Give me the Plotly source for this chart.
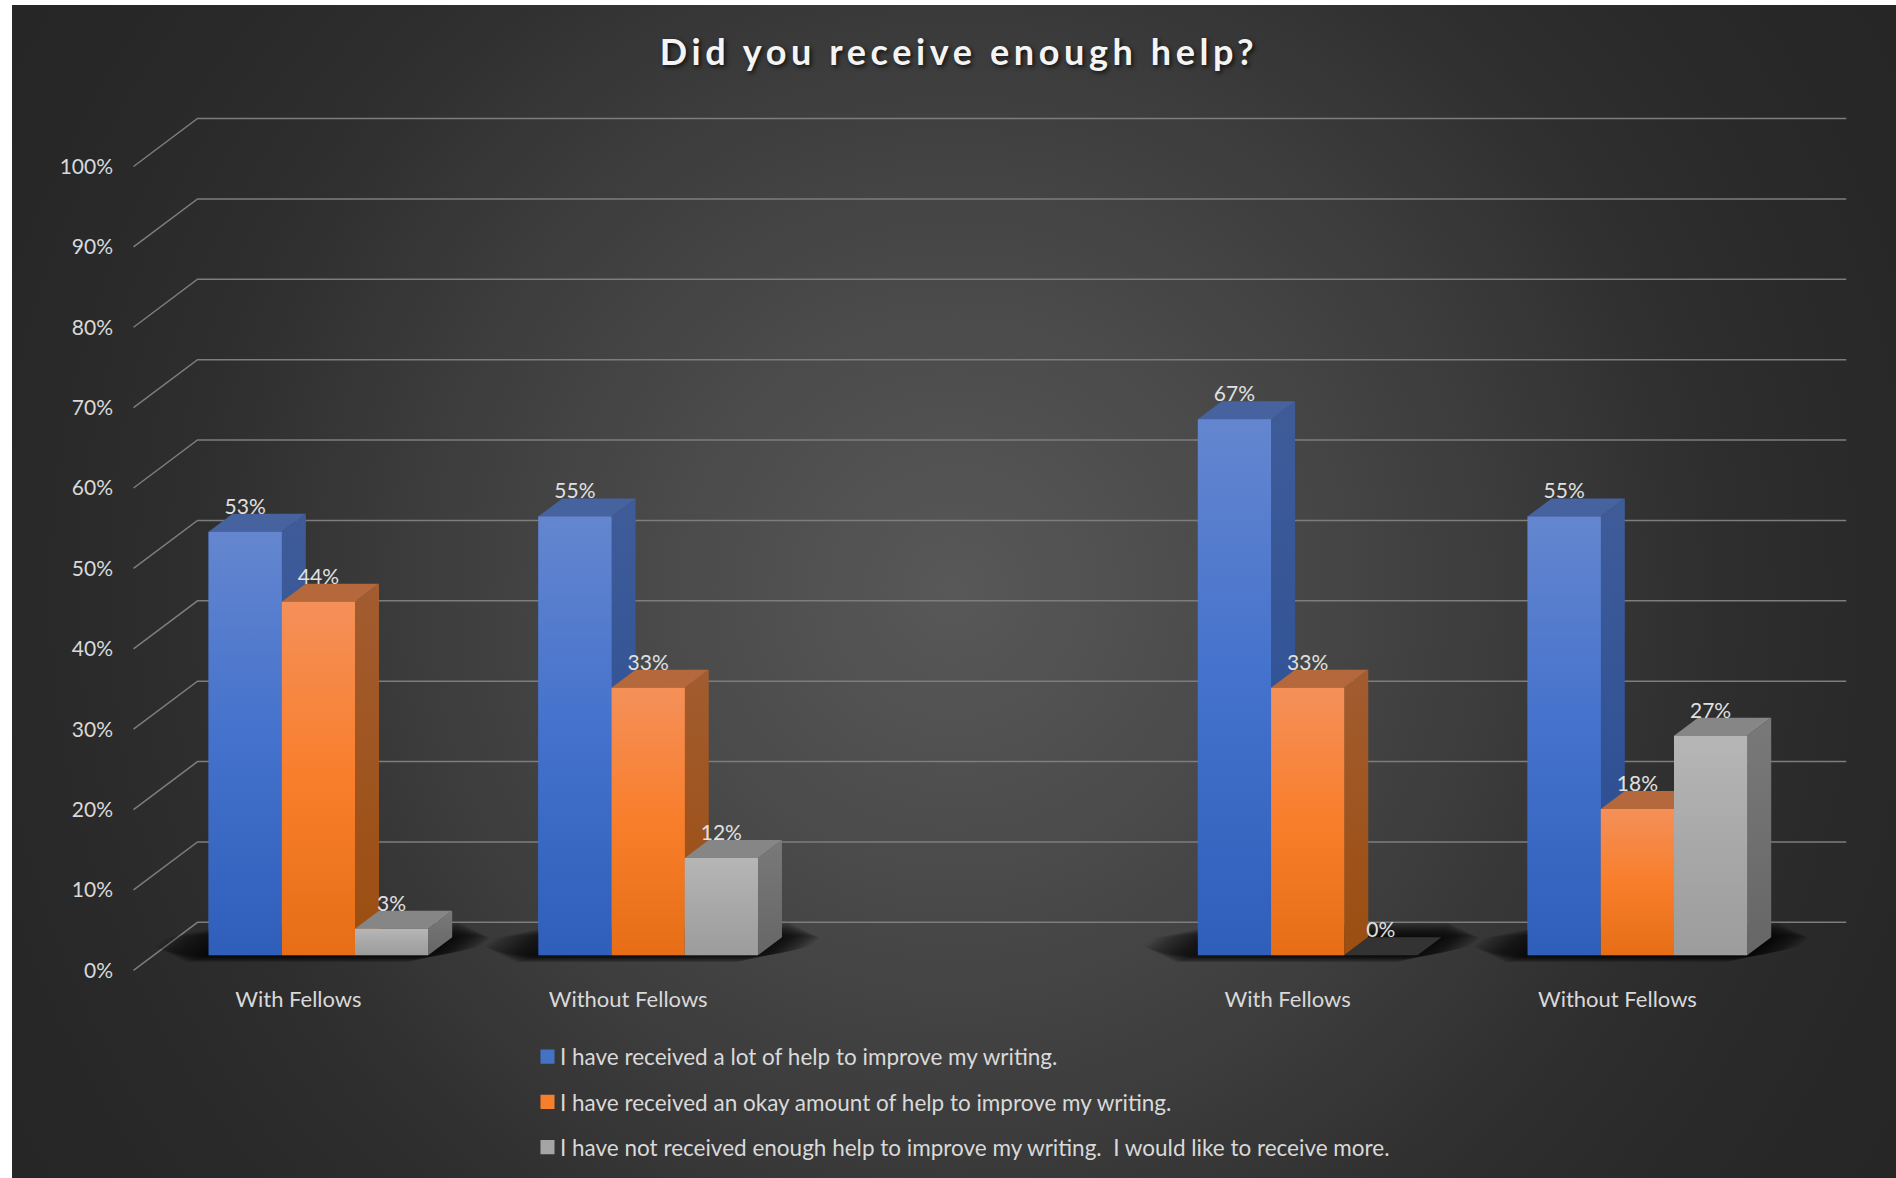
import base64
import numpy as np
import plotly.graph_objects as go

# ---------- data ----------
TITLE = "Did you receive enough help?"
CATEGORIES = ["With Fellows", "Without Fellows", "With Fellows", "Without Fellows"]
CATEGORY_POS = [0, 1, 3, 4]
SERIES_NAMES = [
    "I have received a lot of help to improve my writing.",
    "I have received an okay amount of help to improve my writing.",
    "I have not received enough help to improve my writing.  I would like to receive more.",
]
LOT_OF_HELP = [52.7, 54.6, 66.7, 54.6]
OKAY_HELP = [44.0, 33.3, 33.3, 18.2]
NOT_ENOUGH = [3.3, 12.1, 0.0, 27.3]
Y_TICKS = [0, 10, 20, 30, 40, 50, 60, 70, 80, 90, 100]

# ---------- styles ----------
SERIES = [LOT_OF_HELP, OKAY_HELP, NOT_ENOUGH]
FRONT = [("#2f5fbb", "#4371cc", "#6486cf"), ("#e66e16", "#f97e2b", "#f49059"), ("#9c9c9c", "#a8a8a8", "#b6b6b6")]
SIDE = [("#264b92", "#3f5c99"), ("#9c4e10", "#a25c30"), ("#666666", "#797979")]
TOP = ["#47639f", "#b5683c", "#868686"]
MID = ["#4472c4", "#f57f2b", "#a5a5a5"]
W, H = 1896, 1178
TXT = "#d9d9d9"
FONT = "Lato"
FS = 21

# geometry of the oblique projection (in axis units)
PX_X, PX_Y, X0, Y0 = 329.75, 8.038, 298.4, 970.3
DX, DY = 64 / PX_X, 48 / PX_Y
Z0, Z1 = 0.3125, 0.6875
BW = 73.2 / PX_X
XR = [-X0 / PX_X, (W - X0) / PX_X]
YR = [-(H - Y0) / PX_Y, Y0 / PX_Y]


def pr(x, y, z):
    return x + z * DX, y + z * DY


def poly(pts):
    xs = [p[0] for p in pts] + [pts[0][0]]
    ys = [p[1] for p in pts] + [pts[0][1]]
    return xs, ys


fig = go.Figure()

# solid bars (value traces; carry the legend)
for j, (name, vals) in enumerate(zip(SERIES_NAMES, SERIES)):
    fig.add_trace(go.Bar(
        x=[c + (j - 1) * BW + Z0 * DX for c in CATEGORY_POS], y=vals,
        base=Z0 * DY, width=BW, name=name, legendgroup=f"s{j}",
        marker=dict(color=MID[j], line=dict(width=0)),
        hoverinfo="skip",
    ))

# gridlines: wall + floor edge
gx0, gx1 = -0.5, 4.5
for t in Y_TICKS:
    fig.add_trace(go.Scatter(
        x=[gx0, gx0 + DX, gx1 + DX], y=[t, t + DY, t + DY], mode="lines",
        line=dict(color="#7d7d7d", width=1.5), showlegend=False, hoverinfo="skip"))

# soft floor shadows
for c in CATEGORY_POS:
    xl, xr = c - 1.5 * BW, c + 1.5 * BW
    for t in np.linspace(1, 0.04, 26):
        ex = 66 * t / PX_X
        cx = ex * 0.8
        zf = Z0 - (7 * t) / 48
        zb = Z1 + (15 * t) / 48
        zc = (zb - zf) * 0.4 * t
        a, b = xl - ex, xr + ex * 0.6
        pts = [pr(a + cx, 0, zf), pr(b - cx, 0, zf), pr(b, 0, zf + zc), pr(b, 0, zb - zc),
               pr(b - cx, 0, zb), pr(a + cx, 0, zb), pr(a, 0, zb - zc), pr(a, 0, zf + zc)]
        xs, ys = poly(pts)
        fig.add_trace(go.Scatter(x=xs, y=ys, mode="none", fill="toself",
                                 fillcolor="rgba(0,0,0,0.042)", showlegend=False, hoverinfo="skip"))


def grad(stops, y0, y1):
    pos = np.linspace(0, 1, len(stops))
    return dict(type="vertical", colorscale=[[float(p), s] for p, s in zip(pos, stops)], start=y0, stop=y1)


# 3-D faces painted left to right
for i, c in enumerate(CATEGORY_POS):
    for j, vals in enumerate(SERIES):
        v = vals[i]
        x0 = c + (j - 1.5) * BW
        x1 = x0 + BW
        # side
        if v > 0:
            xs, ys = poly([pr(x1, 0, Z0), pr(x1, 0, Z1), pr(x1, v, Z1), pr(x1, v, Z0)])
            fig.add_trace(go.Scatter(
                x=xs, y=ys, mode="none", fill="toself",
                fillgradient=grad(SIDE[j], Z0 * DY, v + Z1 * DY),
                showlegend=False, hoverinfo="skip"))
        # top
        xs, ys = poly([pr(x0, v, Z0), pr(x1, v, Z0), pr(x1, v, Z1), pr(x0, v, Z1)])
        fig.add_trace(go.Scatter(
            x=xs, y=ys, mode="none", fill="toself",
            fillcolor=TOP[j] if v > 0 else "#333333",
            showlegend=False, hoverinfo="skip"))
        # front
        if v > 0:
            xs, ys = poly([pr(x0, 0, Z0), pr(x1, 0, Z0), pr(x1, v, Z0), pr(x0, v, Z0)])
            fig.add_trace(go.Scatter(
                x=xs, y=ys, mode="none", fill="toself",
                fillgradient=grad(FRONT[j], Z0 * DY, v + Z0 * DY),
                showlegend=False, hoverinfo="skip"))

# data labels
for j, vals in enumerate(SERIES):
    fig.add_trace(go.Scatter(
        x=[c + (j - 1) * BW + Z0 * DX for c in CATEGORY_POS],
        y=[v + Z0 * DY + 2.9 for v in vals],
        text=[f"{v:.0f}%" for v in vals], mode="text", textposition="middle center",
        textfont=dict(family=FONT, size=FS, color="#e0e0e0"),
        showlegend=False, hoverinfo="skip"))

BW_W, BW_H = W - 12, H - 5
svg = (f'<svg xmlns="http://www.w3.org/2000/svg" width="{BW_W}" height="{BW_H}" preserveAspectRatio="none">'
       '<defs><radialGradient id="g" gradientUnits="userSpaceOnUse" cx="942" cy="586" r="1108">'
       '<stop offset="0" stop-color="#585858"/><stop offset="0.25" stop-color="#4b4b4b"/>'
       '<stop offset="0.49" stop-color="#3c3c3c"/><stop offset="0.69" stop-color="#2e2e2e"/>'
       '<stop offset="0.9" stop-color="#272727"/><stop offset="1" stop-color="#262626"/>'
       '</radialGradient></defs>'
       f'<rect width="{BW_W}" height="{BW_H}" fill="url(#g)"/></svg>')
bg_src = "data:image/svg+xml;base64," + base64.b64encode(svg.encode()).decode()

fig.update_layout(
    width=W, height=H, autosize=False,
    margin=dict(l=0, r=0, t=0, b=0),
    paper_bgcolor="white", plot_bgcolor="rgba(0,0,0,0)",
    barmode="overlay",
    font=dict(family=FONT, size=FS, color=TXT),
    title=dict(text=TITLE, x=959 / W, xanchor="center", y=1 - 52 / H, yanchor="middle",
               font=dict(family=FONT, size=36, weight=700, color="#f4f4f4",
                         shadow="2px 2px 4px rgba(0,0,0,0.7)")),
    xaxis=dict(range=XR, domain=[0, 1], anchor="free", position=1 - 984 / H,
               tickmode="array", tickvals=CATEGORY_POS, ticktext=CATEGORIES, ticks="",
               showgrid=False, zeroline=False, showline=False, tickfont=dict(color=TXT, size=22)),
    yaxis=dict(range=YR, domain=[0, 1], anchor="free", position=113 / W,
               tickmode="array", tickvals=Y_TICKS, ticktext=[f"{t}%" for t in Y_TICKS], ticks="",
               showgrid=False, zeroline=False, showline=False, tickfont=dict(color=TXT, size=FS)),
    legend=dict(x=520 / W, xanchor="left", y=1 - 1035.5 / H, yanchor="top", orientation="v",
                bgcolor="rgba(0,0,0,0)", tracegroupgap=13, font=dict(family=FONT, size=22.5, color=TXT),
                traceorder="grouped"),
    images=[dict(source=bg_src, xref="paper", yref="paper", x=12 / W, y=1 - 5 / H,
                 sizex=(W - 12) / W, sizey=(H - 5) / H, xanchor="left", yanchor="top",
                 sizing="stretch", layer="below")],
)

POST = """
document.body.style.margin = '0';
document.querySelectorAll('.gtitle').forEach(function (e) { e.style.letterSpacing = '4.6px'; });
document.querySelectorAll('.legendpoints path').forEach(function (e) {
  e.setAttribute('transform', 'translate(27.5,0) scale(1.17)');
});
"""
fig.write_html("out.html", post_script=POST, config={"displayModeBar": False})
